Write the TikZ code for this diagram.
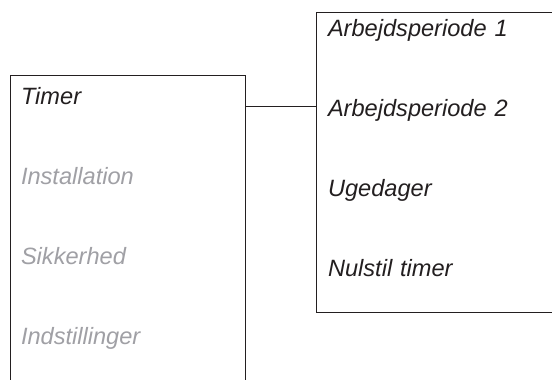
\documentclass[tikz,border=0pt]{standalone}
\usepackage{fontspec}
\setmainfont{Liberation Sans}
\usetikzlibrary{positioning}
\definecolor{ink}{RGB}{35,31,32}
\definecolor{dimmed}{RGB}{160,160,165}
\tikzstyle{panel} = [rectangle, draw=ink, line width=1pt, fill=white, inner sep=0pt]
\tikzstyle{entry} = [text width=200pt, align=left, inner sep=0pt, text height=17pt, text depth=5pt, font=\fontsize{23.6}{28}\selectfont\itshape, text=ink]
\tikzstyle{inactive} = [entry, text=dimmed]
\tikzstyle{link} = [draw=ink, line width=1pt]

\begin{document}
\begin{tikzpicture}[x=1pt, y=-1pt, node distance=80pt]
        \useasboundingbox (0,0) rectangle (552,380);
        \clip (0,0) rectangle (552,380);

        \node (menu) [panel, minimum width=235pt, minimum height=345pt] at (127.5,247.5) {};
        \node (submenu) [panel, minimum width=284pt, minimum height=300pt] at (458,162) {};

        \node (timer) [entry] at (121,98) {Timer};
        \node (install) [inactive, below of=timer] {Installation};
        \node (safety) [inactive, below of=install] {Sikkerhed};
        \node (settings) [inactive, below of=safety] {Indstillinger};

        \node (period1) [entry] at (428,30) {Arbejdsperiode 1};
        \node (period2) [entry, below of=period1] {Arbejdsperiode 2};
        \node (weekdays) [entry, below of=period2] {Ugedager};
        \node (reset) [entry, below of=weekdays] {Nulstil timer};

        \draw [link] ([yshift=-8pt]menu.east |- timer) -- ([yshift=-8pt]submenu.west |- timer);
    \end{tikzpicture}
\end{document}
